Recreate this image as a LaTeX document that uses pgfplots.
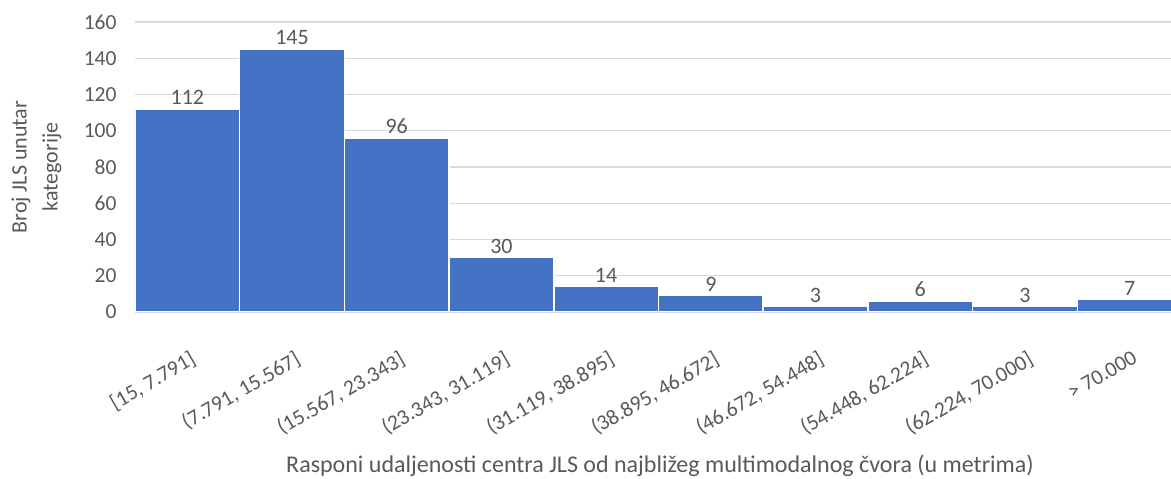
\documentclass[border=0pt]{standalone}
\usepackage{pgfplots}
\pgfplotsset{compat=1.18}
\usepackage{fontspec}
\setmainfont{Carlito}
\definecolor{barblue}{HTML}{4472C4}
\definecolor{txtgray}{HTML}{595959}
\definecolor{gridgray}{HTML}{D9D9D9}
\begin{document}
\begin{tikzpicture}
\begin{axis}[
  name=ax,
  scale only axis,
  width=1036pt, height=290pt,
  xmin=-0.5, xmax=9.395,
  ymin=0, ymax=160,
  ytick={0,20,...,160},
  xtick={0,...,9},
  xticklabels={{[15, 7.791]},{(7.791, 15.567]},{(15.567, 23.343]},{(23.343, 31.119]},{(31.119, 38.895]},{(38.895, 46.672]},{(46.672, 54.448]},{(54.448, 62.224]},{(62.224, 70.000]},{> 70.000}},
  major tick length=0pt,
  axis x line*=bottom,
  axis y line*=left,
  x axis line style={draw=gridgray, line width=1.2pt},
  y axis line style={draw=none},
  ymajorgrids,
  grid style={draw=gridgray, line width=1.2pt},
  /pgf/number format/assume math mode=true,
  tick label style={font=\fontsize{21.5}{25}\selectfont, text=txtgray},
  yticklabel style={anchor=east, xshift=-15pt},
  xticklabel style={rotate=30, anchor=north east, xshift=-14pt, yshift=-30pt},
  ylabel={Broj JLS unutar\\kategorije},
  ylabel style={align=center, font=\fontsize{22}{31}\selectfont, text=txtgray, at={(axis description cs:0,0.5)}, anchor=south, xshift=0pt, yshift=70pt},
  xlabel={Rasponi udaljenosti centra JLS od najbližeg multimodalnog čvora (u metrima)},
  xlabel style={font=\fontsize{24}{28}\selectfont, text=txtgray, at={(axis description cs:0.5,0)}, anchor=center, yshift=-154pt, xshift=7pt},
  ybar, bar width=1,
  nodes near coords,
  every node near coord/.append style={font=\fontsize{22}{26}\selectfont, text=txtgray, yshift=0pt},
  clip=true,
]
\addplot[fill=barblue, draw=white, line width=1.5pt] coordinates {
(0,112) (1,145) (2,96) (3,30) (4,14) (5,9) (6,3) (7,6) (8,3) (9,7)
};
\end{axis}
\pgfresetboundingbox
\path[use as bounding box] ([shift={(-135pt,-167pt)}]ax.south west) rectangle ([shift={(0pt,22pt)}]ax.north east);
\end{tikzpicture}
\end{document}
